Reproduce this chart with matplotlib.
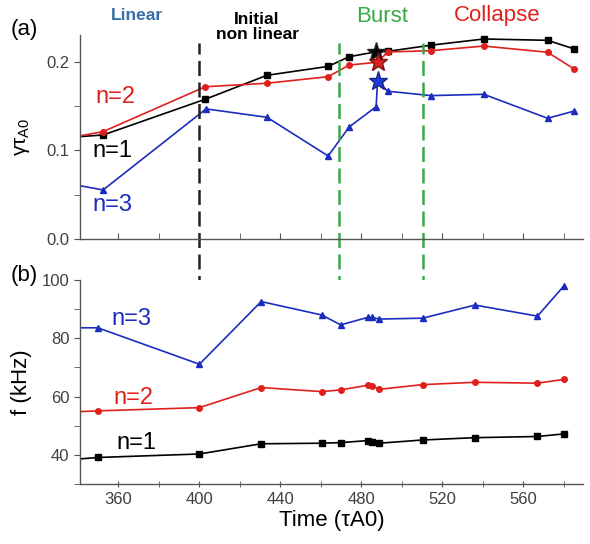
import matplotlib
matplotlib.use("Agg")
import matplotlib.pyplot as plt
from matplotlib.ticker import MultipleLocator

plt.rcParams['font.family'] = ['Liberation Sans', 'DejaVu Sans']

# ---------- data : (a) growth rate -------------------------------------------
t_g1 = [330, 352.4, 403.0, 433.4, 463.6, 474.0, 487.3, 493.0, 514.4, 540.5, 572.0, 585.2]
g_n1 = [0.114, 0.1175, 0.158, 0.185, 0.195, 0.206, 0.2115, 0.212, 0.219, 0.226, 0.2245, 0.2147]

t_g2 = [330, 352.4, 402.8, 433.4, 463.6, 474.0, 488.0, 493.0, 514.4, 540.5, 572.0, 585.2]
g_n2 = [0.112, 0.1213, 0.172, 0.176, 0.1834, 0.1966, 0.1997, 0.2113, 0.2128, 0.218, 0.211, 0.192]

t_g3 = [330, 352.4, 403.3, 433.4, 463.6, 474.0, 487.3, 488.0, 493.0, 514.4, 540.5, 572.0, 585.2]
g_n3 = [0.0648, 0.0554, 0.147, 0.1375, 0.0938, 0.1266, 0.1495, 0.1785, 0.167, 0.162, 0.1635, 0.1364, 0.1446]

# stars (burst peak)
t_star = [487.3, 488.0, 488.0]
g_star = [0.2115, 0.1997, 0.1785]

# ---------- data : (b) frequency ---------------------------------------------
t_f = [330, 349.8, 400.0, 430.5, 460.4, 469.8, 483.3, 485.3, 488.9, 510.3, 536.1, 567.0, 580.1]
f_n1 = [38.0, 39.1, 40.3, 43.8, 44.0, 44.2, 44.9, 44.5, 44.0, 45.1, 45.9, 46.3, 47.2]
f_n2 = [54.5, 55.1, 56.2, 63.1, 61.7, 62.3, 63.9, 63.7, 62.5, 64.1, 64.9, 64.6, 65.9]
f_n3 = [83.6, 83.6, 71.1, 92.6, 88.0, 84.6, 87.2, 87.2, 86.6, 86.9, 91.4, 87.6, 98.0]

# phase boundaries
t_black = 400
t_green = [469.1, 510.3]

C1, C2, C3 = "black", "#e0201c", "#1c2cbf"
GREEN = "#3aa84a"
XLIM = (341, 589.5)

fig = plt.figure(figsize=(5.9, 5.44), dpi=100)
ax1 = fig.add_axes([80 / 590, 1 - 239 / 544, 503 / 590, 204 / 544])
ax2 = fig.add_axes([80 / 590, 1 - 484 / 544, 503 / 590, 204 / 544])

for ax in (ax1, ax2):
    ax.spines['top'].set_visible(False)
    ax.spines['right'].set_visible(False)
    for s in ('left', 'bottom'):
        ax.spines[s].set_color('#555555')
        ax.spines[s].set_linewidth(1.0)
    ax.set_xlim(*XLIM)
    ax.xaxis.set_major_locator(MultipleLocator(40))
    ax.xaxis.set_minor_locator(MultipleLocator(20))
    ax.tick_params(axis='both', which='both', colors='#555555', labelcolor='#404040',
                   labelsize=12)
    ax.tick_params(axis='x', which='both', direction='inout', length=5)
    ax.tick_params(axis='y', which='both', direction='out', length=4)

# ---------- (a) --------------------------------------------------------------
ax1.plot(t_g1, g_n1, color=C1, marker='s', ms=3.8, lw=1.2)
ax1.plot(t_g2, g_n2, color=C2, marker='o', ms=4, lw=1.2)
ax1.plot(t_g3, g_n3, color=C3, marker='^', ms=5, lw=1.2)
ax1.plot(t_star[0], g_star[0], marker='*', ms=14, color=C1, mec='#222222', ls='none')
ax1.plot(t_star[1], g_star[1], marker='*', ms=14, color=C2, mec='#7a1010', ls='none')
ax1.plot(t_star[2], g_star[2], marker='*', ms=14, color='#1c3ce0', mec='#1a2580', ls='none')

ax1.set_ylim(0, 0.2305)
ax1.yaxis.set_major_locator(MultipleLocator(0.1))
ax1.yaxis.set_minor_locator(MultipleLocator(0.05))
ax1.yaxis.set_major_formatter(matplotlib.ticker.FormatStrFormatter('%.1f'))
ax1.tick_params(axis='x', which='both', labelbottom=False, direction='in', length=4)
ax1.set_ylabel(r'$\mathregular{\gamma\tau_{A0}}$', fontsize=15)
ax1.yaxis.set_label_coords(-0.095, 0.5)

ax1.text(348.5, 0.160, 'n=2', color=C2, fontsize=17, ha='left', va='center')
ax1.text(347.0, 0.0994, 'n=1', color=C1, fontsize=17, ha='left', va='center')
ax1.text(347.0, 0.038, 'n=3', color=C3, fontsize=17, ha='left', va='center')

# ---------- (b) --------------------------------------------------------------
ax2.plot(t_f, f_n1, color=C1, marker='s', ms=3.8, lw=1.2)
ax2.plot(t_f, f_n2, color=C2, marker='o', ms=4, lw=1.2)
ax2.plot(t_f, f_n3, color=C3, marker='^', ms=5, lw=1.2)
ax2.set_ylim(30, 100)
ax2.yaxis.set_major_locator(MultipleLocator(20))
ax2.yaxis.set_minor_locator(MultipleLocator(10))
ax2.set_ylabel('f (kHz)', fontsize=16)
ax2.yaxis.set_label_coords(-0.095, 0.5)
ax2.set_xlabel('Time (τA0)', fontsize=16, labelpad=2)

ax2.text(356.5, 86.5, 'n=3', color=C3, fontsize=17, ha='left', va='center')
ax2.text(357.5, 59.4, 'n=2', color=C2, fontsize=17, ha='left', va='center')
ax2.text(359.0, 44.0, 'n=1', color=C1, fontsize=17, ha='left', va='center')

# ---------- vertical phase lines across both panels --------------------------
ymax = (239 - 43) / 204
ymin = (239 - 484) / 204
ax1.axvline(t_black, ymin=ymin, ymax=ymax, color='#222222', lw=1.8,
            dashes=(6, 2.6), clip_on=False)
for tg in t_green:
    ax1.axvline(tg, ymin=ymin, ymax=ymax, color=GREEN, lw=1.8,
                dashes=(6, 2.6), clip_on=False)

# ---------- phase names and panel labels -------------------------------------
fig.text(137 / 590, 1 - 15 / 544, 'Linear', color='#3a6ea5', fontsize=12.5,
         fontweight='bold', ha='center', va='center')
fig.text(257 / 590, 1 - 27 / 544, 'Initial\nnon linear', color='black', fontsize=12.5,
         fontweight='bold', ha='center', va='center', linespacing=1.0)
fig.text(382 / 590, 1 - 16 / 544, 'Burst', color=GREEN, fontsize=16,
         ha='center', va='center')
fig.text(497 / 590, 1 - 16 / 544, 'Collapse', color=C2, fontsize=16,
         ha='center', va='center')
fig.text(24 / 590, 1 - 30 / 544, '(a)', fontsize=16, ha='center', va='center')
fig.text(24 / 590, 1 - 275 / 544, '(b)', fontsize=16, ha='center', va='center')

fig.savefig('out.png', dpi=100)
